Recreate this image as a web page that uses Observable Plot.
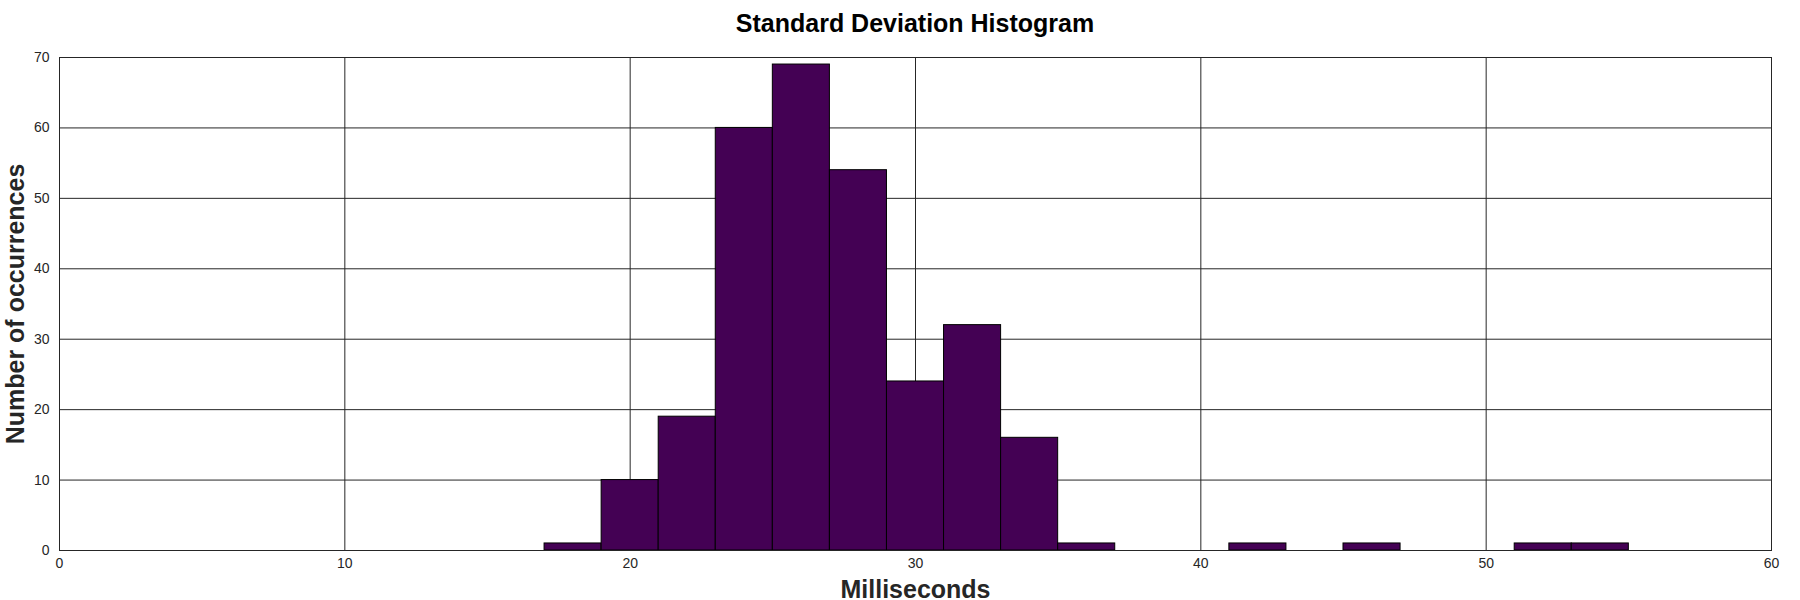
<!DOCTYPE html>
<html>
<head>
<meta charset="utf-8">
<script src="https://cdn.jsdelivr.net/npm/d3@7"></script>
<script src="https://cdn.jsdelivr.net/npm/@observablehq/plot@0.6"></script>
<style>
  html, body { margin: 0; padding: 0; background: #fff; }
  #wrap { position: relative; width: 1800px; font-family: "Liberation Sans", Arial, Helvetica, sans-serif; }
  #title { height: 40px; width: 1800px; position: relative; }
  #title span { position: absolute; left: 59px; width: 1712px; top: 8px; text-align: center; font-size: 25px; font-weight: bold; color: #000; line-height: 30px; }
</style>
</head>
<body>
<div id="wrap">
  <div id="title"><span>Standard Deviation Histogram</span></div>
  <div id="chart"></div>
</div>
<script>
const binStarts = [17, 19, 21, 23, 25, 27, 29, 31, 33, 35, 41, 45, 51, 53];
const counts    = [1, 10, 19, 60, 69, 54, 24, 32, 16, 1, 1, 1, 1, 1];
const binWidth = 2;
const xTicks = [0, 10, 20, 30, 40, 50, 60];
const yTicks = [0, 10, 20, 30, 40, 50, 60, 70];
const xLabel = "Milliseconds";
const yLabel = "Number of occurrences";

const bins = binStarts.map((s, i) => ({x1: s, x2: s + binWidth, count: counts[i]}));

const ink = "#262626";
const chart = Plot.plot({
  width: 1800,
  height: 560,
  marginTop: 17,
  marginLeft: 59,
  marginRight: 29,
  marginBottom: 50,
  style: {fontFamily: '"Liberation Sans", Arial, Helvetica, sans-serif', background: "#fff", overflow: "visible"},
  x: {domain: [0, 60], ticks: xTicks},
  y: {domain: [0, 70], ticks: yTicks},
  marks: [
    Plot.gridX(xTicks, {stroke: ink, strokeOpacity: 1, strokeWidth: 1}),
    Plot.gridY(yTicks, {stroke: ink, strokeOpacity: 1, strokeWidth: 1}),
    Plot.rectY(bins, {x1: "x1", x2: "x2", y: "count", fill: "#440154", stroke: "#000", strokeWidth: 1}),
    Plot.frame({stroke: ink, strokeWidth: 1}),
    Plot.axisX(xTicks, {tickSize: 0, tickPadding: 8, fontSize: 14, fill: ink, label: null}),
    Plot.axisY(yTicks, {tickSize: 0, tickPadding: 10, fontSize: 14, fill: ink, label: null}),
    Plot.text([xLabel], {frameAnchor: "bottom", dy: 39, fontSize: 25, fontWeight: "bold", fill: ink, textAnchor: "middle", lineAnchor: "middle"}),
    Plot.text([yLabel], {frameAnchor: "left", dx: -44, rotate: -90, fontSize: 25, fontWeight: "bold", fill: ink, textAnchor: "middle", lineAnchor: "middle"})
  ]
});
document.getElementById("chart").appendChild(chart);
</script>
</body>
</html>
